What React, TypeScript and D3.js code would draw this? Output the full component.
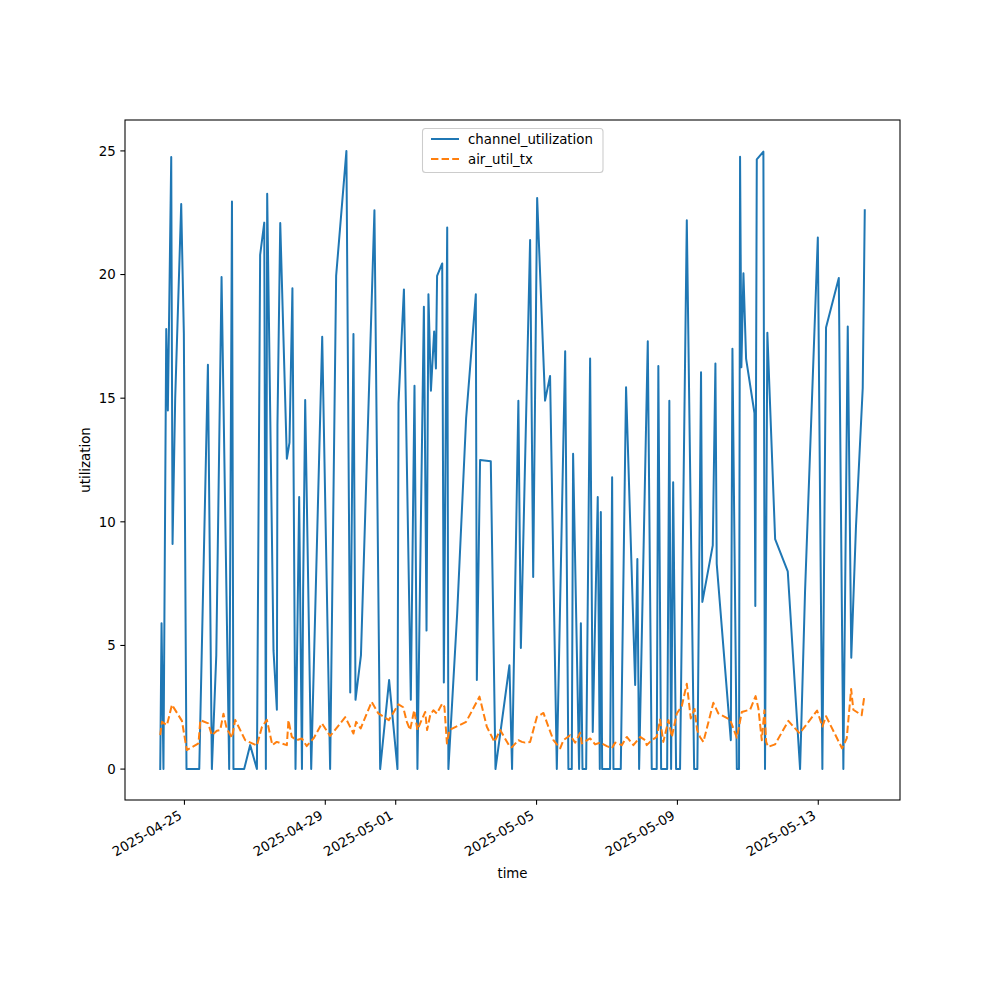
import React from 'react';
import * as d3 from 'd3';

// time stamps are hours since 2025-04-24 00:00 UTC
const BASE = Date.UTC(2025, 3, 24);

const channelHours = [
  7.5, 8.4, 9.7, 11.6, 12.7, 15.0, 15.9, 17.7, 21.8, 23.6,
  25.4, 34.1, 40.0, 42.7, 45.7, 49.3, 54.5, 56.4, 57.4, 64.7,
  68.8, 73.4, 75.6, 78.4, 79.5, 80.4, 84.7, 87.0, 87.4, 89.3,
  93.8, 95.6, 97.6, 99.7, 102.2, 104.1, 104.9, 106.3, 110.4, 117.9,
  123.3, 127.4, 134.4, 137.0, 139.2, 140.6, 144.3, 153.5, 157.4, 163.5,
  169.2, 169.9, 173.6, 178.3, 180.8, 182.8, 187.2, 189.0, 190.3, 192.0,
  194.2, 195.4, 196.2, 199.7, 200.8, 203.1, 203.9, 209.9, 216.0, 222.6,
  223.3, 225.5, 232.8, 236.0, 245.5, 247.3, 251.6, 253.3, 259.6, 261.7,
  264.4, 269.8, 273.2, 277.8, 283.5, 285.7, 288.0, 288.9, 293.0, 294.2,
  295.3, 297.8, 300.5, 302.3, 305.7, 307.1, 307.8, 308.7, 314.1, 315.5,
  316.4, 321.4, 325.0, 331.2, 332.7, 333.9, 339.8, 342.5, 345.9, 347.0,
  348.9, 353.0, 354.5, 355.7, 357.1, 359.1, 361.8, 366.4, 371.4, 373.6,
  376.1, 377.0, 384.1, 385.9, 386.8, 396.4, 397.5, 400.5, 402.0, 402.7,
  403.6, 405.0, 406.8, 412.5, 413.1, 414.1, 418.6, 419.7, 421.3, 426.6,
  435.2, 443.6, 447.0, 455.7, 458.8, 461.3, 470.0, 473.1, 476.1, 478.5,
  481.7, 486.3, 487.7,
];

const channelUtilization = [
  0, 5.9, 0, 17.8, 14.5, 24.75, 9.1, 15.0, 22.85, 17.6,
  0, 0, 16.35, 0, 4.6, 19.9, 0, 22.95, 0, 0,
  0.97, 0, 20.8, 22.1, 0, 23.27, 4.8, 2.4, 13.9, 22.08,
  12.55, 13.2, 19.45, 0, 11.0, 0, 7.2, 14.93, 0, 17.48,
  0, 19.95, 25.0, 3.1, 17.6, 2.8, 4.6, 22.6, 0, 3.6,
  0, 14.8, 19.4, 2.8, 15.5, 0, 18.7, 5.6, 19.2, 15.3,
  17.7, 16.2, 19.95, 20.45, 3.5, 21.9, 0, 6.3, 14.2, 19.2,
  3.6, 12.5, 12.45, 0, 4.2, 0, 14.9, 4.9, 21.4, 7.77,
  23.1, 14.9, 15.9, 0, 16.9, 0, 0, 12.75, 0, 5.9,
  0, 0, 16.6, 1.5, 11.0, 0, 10.4, 0, 0, 11.8,
  0, 0, 15.44, 3.4, 8.5, 0, 17.3, 0, 0, 16.3,
  0, 0, 14.9, 0, 11.6, 0, 0, 22.2, 0, 0,
  16.05, 6.76, 9.05, 16.4, 8.3, 1.17, 17.0, 0, 0, 24.76,
  16.25, 20.05, 16.6, 14.4, 6.6, 24.66, 24.97, 0, 17.65, 9.3,
  8.0, 0, 7.2, 21.5, 0, 17.86, 19.86, 0, 17.9, 4.5,
  9.8, 15.4, 22.6,
];

const airHours = [
  7.5, 8.7, 12.1, 15.5, 22.3, 25.6, 33.6, 34.8, 40.2, 42.7,
  46.1, 48.4, 50.6, 52.8, 56.4, 58.6, 65.4, 73.4, 76.8, 80.2,
  83.9, 86.9, 93.8, 94.9, 97.2, 100.6, 104.1, 107.3, 112.0, 117.7,
  123.3, 133.6, 139.2, 141.0, 144.1, 151.6, 156.2, 163.3, 169.9, 173.1,
  175.6, 177.8, 180.6, 182.8, 185.1, 188.1, 189.4, 191.5, 193.7, 196.0,
  199.7, 201.2, 202.9, 204.6, 216.0, 225.1, 230.1, 235.3, 239.2, 245.5,
  247.1, 251.6, 254.0, 256.2, 259.6, 264.2, 268.7, 272.1, 275.5, 280.1,
  282.3, 286.9, 290.3, 293.7, 294.8, 298.5, 300.5, 303.9, 307.3, 311.9,
  315.3, 317.6, 322.1, 325.5, 330.0, 334.6, 338.0, 339.1, 342.5, 345.9,
  348.2, 350.4, 353.9, 356.2, 359.6, 363.0, 366.4, 369.1, 371.7, 373.4,
  375.4, 377.7, 384.5, 387.9, 395.9, 400.5, 403.9, 409.6, 413.3, 415.2,
  417.5, 419.3, 420.5, 421.8, 426.6, 435.6, 443.3, 455.2, 458.8, 461.3,
  472.2, 475.4, 478.4, 479.9, 485.6, 487.4,
];

const airUtilTx = [
  1.37, 1.91, 1.78, 2.6, 1.95, 0.77, 1.04, 1.98, 1.85, 1.37,
  1.55, 1.58, 2.24, 1.64, 1.27, 1.99, 1.17, 0.95, 1.7, 1.99,
  0.97, 1.1, 0.97, 1.98, 1.3, 1.17, 1.24, 0.93, 1.24, 1.85,
  1.34, 2.1, 1.44, 1.91, 1.64, 2.72, 2.25, 1.98, 2.62, 2.5,
  1.91, 1.58, 2.38, 1.58, 1.91, 2.31, 1.58, 2.18, 2.38, 2.25,
  2.65, 2.52, 1.04, 1.58, 1.91, 2.93, 1.71, 1.1, 1.58, 0.93,
  0.88, 1.17, 1.1, 1.07, 1.1, 2.11, 2.27, 1.71, 1.17, 0.84,
  1.17, 1.37, 1.07, 1.47, 1.04, 1.17, 1.24, 1.0, 1.07, 0.93,
  0.84, 1.07, 0.97, 1.3, 0.97, 1.3, 1.17, 0.97, 1.17, 1.3,
  2.0, 1.1, 1.98, 1.3, 2.25, 2.55, 3.45, 2.05, 2.43, 1.6,
  1.3, 1.1, 2.68, 2.25, 2.0, 1.27, 2.31, 2.41, 2.95, 2.45,
  1.17, 2.38, 1.1, 0.9, 1.0, 1.95, 1.44, 2.37, 1.72, 2.14,
  0.84, 1.24, 3.24, 2.4, 2.18, 2.95,
];

const xTickDates = ['2025-04-25', '2025-04-29', '2025-05-01', '2025-05-05', '2025-05-09', '2025-05-13'];
const yTickValues = [0, 5, 10, 15, 20, 25];
const seriesNames = ['channel_utilization', 'air_util_tx'];
const seriesColors = ['#1f77b4', '#ff7f0e'];

type Pt = { t: number; v: number };

export default function App() {
  const L = 125, R = 900, T = 120, B = 800;
  const font = 'DejaVu Sans, sans-serif';
  const fs = 13.33;

  const ch: Pt[] = channelHours.map((h, i) => ({ t: BASE + h * 3600e3, v: channelUtilization[i] }));
  const air: Pt[] = airHours.map((h, i) => ({ t: BASE + h * 3600e3, v: airUtilTx[i] }));
  const all = ch.concat(air);
  const tMin = d3.min(all, d => d.t) as number;
  const tMax = d3.max(all, d => d.t) as number;
  const tPad = (tMax - tMin) * 0.05;
  const vMin = d3.min(all, d => d.v) as number;
  const vMax = d3.max(all, d => d.v) as number;
  const vPad = (vMax - vMin) * 0.05;

  const x = d3.scaleUtc().domain([tMin - tPad, tMax + tPad]).range([L, R]);
  const y = d3.scaleLinear().domain([vMin - vPad, vMax + vPad]).range([B, T]);
  const line = d3.line<Pt>().x(d => x(d.t)).y(d => y(d.v));

  const tickLen = 4.67;

  return (
    <svg width={1000} height={1000} style={{ position: 'absolute', left: 0, top: 0, background: '#fff' }}
      fontFamily={font}>
      <rect x={0} y={0} width={1000} height={1000} fill="#fff" />
      <defs>
        <clipPath id="plotclip"><rect x={L} y={T} width={R - L} height={B - T} /></clipPath>
      </defs>
      <g clipPath="url(#plotclip)">
        <path d={line(ch) || ''} fill="none" stroke={seriesColors[0]} strokeWidth={2}
          strokeLinejoin="round" strokeLinecap="square" />
        <path d={line(air) || ''} fill="none" stroke={seriesColors[1]} strokeWidth={2}
          strokeDasharray="7.4 3.2" strokeLinejoin="round" />
      </g>
      <rect x={L} y={T} width={R - L} height={B - T} fill="none" stroke="#000" strokeWidth={1.07} />

      {yTickValues.map(v => (
        <g key={'y' + v}>
          <line x1={L - tickLen} x2={L} y1={y(v)} y2={y(v)} stroke="#000" strokeWidth={1.07} />
          <text x={L - tickLen - 4.67} y={y(v) + 4.8} textAnchor="end" fontSize={fs} fill="#000">{v}</text>
        </g>
      ))}

      {xTickDates.map(s => {
        const tx = x(new Date(s + 'T00:00:00Z'));
        return (
          <g key={s}>
            <line x1={tx} x2={tx} y1={B} y2={B + tickLen} stroke="#000" strokeWidth={1.07} />
            <text transform={`translate(${tx - 1.5},${B + 18}) rotate(-30)`} textAnchor="end"
              fontSize={fs} fill="#000">{s}</text>
          </g>
        );
      })}

      <text x={(L + R) / 2} y={878} textAnchor="middle" fontSize={fs} fill="#000">time</text>
      <text transform={`translate(90,${(T + B) / 2}) rotate(-90)`} textAnchor="middle" fontSize={fs} fill="#000">utilization</text>

      <g>
        <rect x={422.5} y={128.5} width={180.5} height={44} rx={3} ry={3} fill="#fff" fillOpacity={0.8}
          stroke="#cccccc" strokeWidth={1.07} />
        {seriesNames.map((name, i) => (
          <g key={name}>
            <line x1={431} x2={459} y1={139 + i * 20} y2={139 + i * 20} stroke={seriesColors[i]} strokeWidth={2}
              strokeDasharray={i === 1 ? '7.4 3.2' : undefined} />
            <text x={468} y={144 + i * 20} fontSize={fs} fill="#000">{name}</text>
          </g>
        ))}
      </g>
    </svg>
  );
}
